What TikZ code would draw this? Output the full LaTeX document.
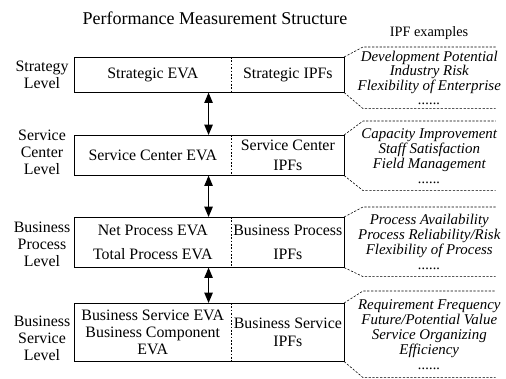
\documentclass[tikz,border=0pt]{standalone}
\usepackage{fontspec}
\setmainfont{Liberation Serif}
\usetikzlibrary{arrows.meta}
\newcommand\mainsize{\fontsize{11.3pt}{12.1pt}\selectfont}
\newcommand\exsize{\fontsize{10.6pt}{10.7pt}\selectfont}

\begin{document}
\begin{tikzpicture}[
  x=0.25mm, y=-0.25mm,
  font=\mainsize,
  lvl/.style={align=center, inner sep=0pt},
  eva/.style={anchor=north west, minimum width=39.25mm, align=center, inner sep=0pt},
  ipfs/.style={anchor=north west, minimum width=28mm, align=center, inner sep=0pt},
  frame/.style={line width=0.7pt},
  split/.style={line width=0.4pt, dash pattern=on 1.2pt off 1.2pt},
  link/.style={{Triangle[length=2.6mm, width=2.1mm]}-{Triangle[length=2.6mm, width=2.1mm]}, line width=0.9pt},
  exbox/.style={anchor=north west, minimum width=33mm, align=center, inner ysep=0pt, inner xsep=-2mm, font=\exsize\itshape},
  callout/.style={line width=0.4pt, dash pattern=on 1.6pt off 1.1pt},
]
\useasboundingbox (0,0) rectangle (506,379);

\node[font=\fontsize{12.8pt}{14pt}\selectfont] (title) at (215,18) {Performance Measurement Structure};
\node[font=\fontsize{10.2pt}{12pt}\selectfont] (exhead) at (429,33) {IPF examples};

% ---- strategy level ----
\node[eva, minimum height=8.75mm] (eva1) at (74,57) {Strategic EVA};
\node[ipfs, minimum height=8.75mm] (ipf1) at (eva1.north east) {Strategic IPFs};
\draw[frame] (eva1.north west) rectangle (ipf1.south east);
\draw[split] (eva1.north east) -- (eva1.south east);
\node[lvl] (lvl1) at (42,74.5) {Strategy\\Level};

% ---- service center level ----
\node[eva, minimum height=10mm] (eva2) at (74,135) {Service Center EVA};
\node[ipfs, minimum height=10mm] (ipf2) at (eva2.north east) {Service Center\\[2pt]IPFs};
\draw[frame] (eva2.north west) rectangle (ipf2.south east);
\draw[split] (eva2.north east) -- (eva2.south east);
\node[lvl] (lvl2) at (42,152) {Service\\Center\\Level};

% ---- business process level ----
\node[eva, minimum height=12.5mm] (eva3) at (74,217) {Net Process EVA\\[5pt]Total Process EVA};
\node[ipfs, minimum height=12.5mm] (ipf3) at (eva3.north east) {Business Process\\[5pt]IPFs};
\draw[frame] (eva3.north west) rectangle (ipf3.south east);
\draw[split] (eva3.north east) -- (eva3.south east);
\node[lvl] (lvl3) at (42,244) {Business\\Process\\Level};

% ---- business service level ----
\node[eva, minimum height=14.5mm] (eva4) at (74,303) {Business Service EVA\\Business Component\\EVA};
\node[ipfs, minimum height=14.5mm] (ipf4) at (eva4.north east) {Business Service\\[1pt]IPFs};
\draw[frame] (eva4.north west) rectangle (ipf4.south east);
\draw[split] (eva4.north east) -- (eva4.south east);
\node[lvl] (lvl4) at (42,338) {Business\\Service\\Level};

% ---- links between levels ----
\draw[link] ([xshift=-5.75mm]eva1.south east) -- ([xshift=-5.75mm]eva2.north east);
\draw[link] ([xshift=-5.75mm]eva2.south east) -- ([xshift=-5.75mm]eva3.north east);
\draw[link] ([xshift=-5.75mm]eva3.south east) -- ([xshift=-5.75mm]eva4.north east);

% ---- IPF example callouts ----
\node[exbox, minimum height=15.25mm, font=\fontsize{10.6pt}{10.2pt}\selectfont\itshape] (ex1) at (363,47)
  {Development Potential\\Industry Risk\\Flexibility of Enterprise\\......};
\draw[callout] (ipf1.north east) -- (ex1.north west) -- (ex1.north east);
\draw[callout] (ipf1.south east) -- (ex1.south west) -- (ex1.south east);

\node[exbox, minimum height=17.25mm] (ex2) at (363,121)
  {Capacity Improvement\\Staff Satisfaction\\Field Management\\......};
\draw[callout] (ipf2.north east) -- (ex2.north west) -- (ex2.north east);
\draw[callout] (ipf2.south east) -- (ex2.south west) -- (ex2.south east);

\node[exbox, minimum height=17.25mm] (ex3) at (363,207)
  {Process Availability\\Process Reliability/Risk\\Flexibility of Process\\......};
\draw[callout] (ipf3.north east) -- (ex3.north west) -- (ex3.north east);
\draw[callout] (ipf3.south east) -- (ex3.south west) -- (ex3.south east);

\node[exbox, minimum height=21.5mm] (ex4) at (363,291)
  {Requirement Frequency\\Future/Potential Value\\Service Organizing\\Efficiency\\......};
\draw[callout] (ipf4.north east) -- (ex4.north west) -- (ex4.north east);
\draw[callout] (ipf4.south east) -- (ex4.south west) -- (ex4.south east);
\end{tikzpicture}
\end{document}
